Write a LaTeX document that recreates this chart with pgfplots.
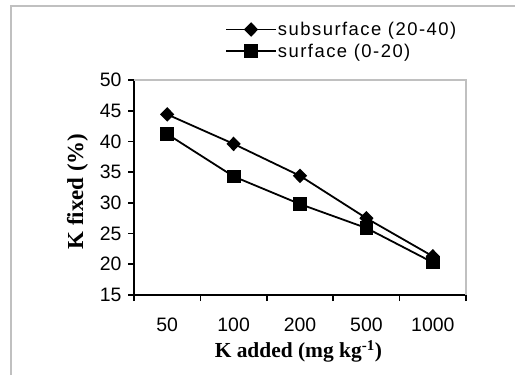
\documentclass[border=0pt]{standalone}
\usepackage{fontspec}
\setmainfont{Liberation Sans}
\newfontfamily\tnr{Liberation Serif}
\newfontfamily\legfont[LetterSpace=8]{Liberation Sans}
\usepackage{pgfplots}
\pgfplotsset{compat=1.18}
\definecolor{framegray}{RGB}{192,192,192}
\begin{document}
\begin{tikzpicture}[x=1bp,y=1bp]
\useasboundingbox (0,0) rectangle (515,375);
\draw[framegray, line width=1.6bp] (11,0) -- (11,369) -- (515,369);
\begin{axis}[
  at={(134bp,80bp)}, anchor=south west,
  scale only axis, width=332bp, height=215bp,
  xmin=-0.5, xmax=4.5, ymin=15, ymax=50,
  xtick={0,1,2,3,4},
  xticklabels={50,100,200,500,1000},
  minor xtick={-0.5,0.5,1.5,2.5,3.5,4.5},
  ytick={15,20,25,30,35,40,45,50},
  axis x line*=bottom, axis y line*=left,
  axis line style={black, line width=1.6bp},
  tick align=outside,
  major tick length=6bp, minor tick length=6bp,
  every tick/.style={black, line width=1.6bp},
  major x tick style={draw=none},
  /pgf/number format/assume math mode=true,
  tick label style={font=\fontsize{19.5}{23}\selectfont},
  xticklabel style={anchor=base, yshift=-30bp},
  yticklabel style={anchor=east, xshift=-3bp},
  xlabel={K added (mg kg\textsuperscript{-1})},
  ylabel={K fixed (\%)},
  label style={font=\fontsize{21.5}{25}\selectfont\bfseries\tnr},
  xlabel style={at={(axis description cs:0.495,-0.293)}, anchor=base},
  ylabel style={at={(axis description cs:-0.1536,0.481)}, anchor=base, rotate=0, font=\fontsize{23}{27}\selectfont\bfseries\tnr},
  legend style={draw=none, fill=none, at={(axis description cs:0.274,1.275)}, anchor=north west,
    inner sep=0pt, row sep=5bp, font=\fontsize{18.5}{22}\selectfont\legfont,
    nodes={inner sep=1bp}},
  legend cell align=left,
  legend image code/.code={\draw[mark repeat=2,mark phase=2,#1] plot coordinates {(0bp,0bp) (25bp,0bp) (50bp,0bp)};},
  clip=false,
]
\addplot[black, line width=1.8bp, mark=diamond*, mark size=6bp, mark options={solid, xscale=1.3}] coordinates {
  (0,44.4) (1,39.6) (2,34.4) (3,27.5) (4,21.3)};
\addlegendentry{subsurface (20-40)}
\addplot[black, line width=1.8bp, mark=square*, mark size=6bp, mark options={solid}] coordinates {
  (0,41.2) (1,34.3) (2,29.8) (3,25.9) (4,20.3)};
\addlegendentry{surface (0-20)}
\draw[framegray, line width=1.6bp] (rel axis cs:0,1) -- (rel axis cs:1,1) -- (rel axis cs:1,0);
\end{axis}
\end{tikzpicture}
\end{document}
